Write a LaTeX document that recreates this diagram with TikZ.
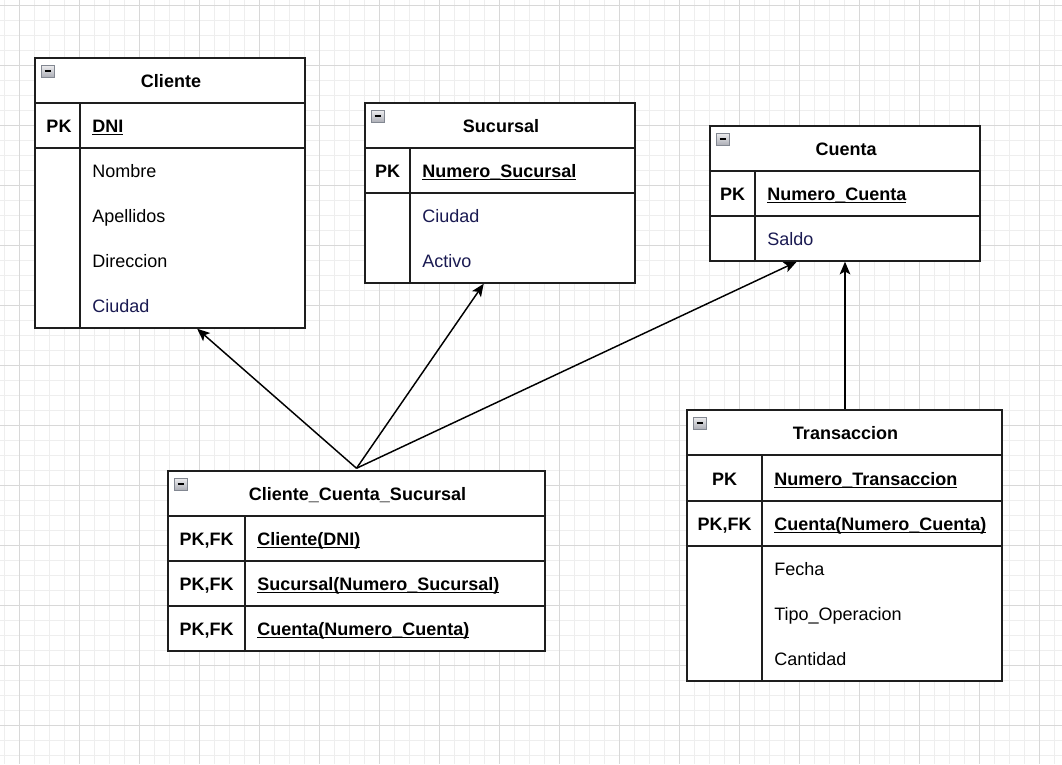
\documentclass[tikz,border=0pt]{standalone}
\usepackage{fontspec}
\setmainfont{Liberation Sans}
\usetikzlibrary{arrows.meta,calc,fit}
\definecolor{gridminor}{HTML}{EEEEEE}
\definecolor{gridmajor}{HTML}{D8D8D8}
\definecolor{navy}{HTML}{1A1A52}
\definecolor{tline}{HTML}{1E1E1E}
\newcommand\undl[1]{\setbox0\hbox{#1}\rlap{\rule[-2.4pt]{\wd0}{0.95pt}}\box0}
\tikzset{
  tbl/.style={draw=tline, line width=1.1pt, fill=white, inner sep=0pt},
  tsep/.style={draw=tline, line width=1.1pt},
  ttitle/.style={font=\fontsize{13.5}{16}\selectfont\bfseries, inner sep=0pt, anchor=base},
  keyf/.style={font=\fontsize{13.5}{16}\selectfont\bfseries, inner sep=0pt, anchor=base},
  attr/.style={font=\fontsize{13.5}{16}\selectfont, inner sep=0pt, anchor=base west},
  keyattr/.style={font=\fontsize{13.5}{16}\selectfont\bfseries, inner sep=0pt, anchor=base west},
  rel/.style={draw=black, line width=1.1pt, -{Stealth[length=9.5pt,width=8pt,inset=2.2pt]}},
  minusbox/.style={draw={rgb,255:red,130;green,135;blue,145}, line width=0.6pt, top color={rgb,255:red,238;green,238;blue,240}, bottom color={rgb,255:red,170;green,172;blue,180}},
}
% name, x1, y1, x2, y2, divider x, title
\newcommand\ertbl[7]{%
  \node[tbl, fit={(#2,#3)(#4,#5)}] (#1) {};
  \draw[tsep] (#2,#3+45) -- (#4,#3+45);
  \draw[tsep] (#6,#3+45) -- (#6,#5);
  \node[ttitle] (#1-title) at ({(#2+#4)/2+1},#3+29) {#7};
  \shade[minusbox] (#2+6.5,#3+7) rectangle (#2+19,#3+19.5);
  \draw[line width=1.3pt, black] (#2+9.5,#3+13.25) -- (#2+16,#3+13.25);
}
\begin{document}
\begin{tikzpicture}[x=0.75pt,y=-0.75pt]
\useasboundingbox (0,0) rectangle (1062,764);
\fill[white] (0,0) rectangle (1062,764);
\foreach \x in {4,19,...,1062} \draw[gridminor, line width=0.75pt] (\x,0) -- (\x,764);
\foreach \y in {5,20,...,764} \draw[gridminor, line width=0.75pt] (0,\y) -- (1062,\y);
\foreach \x in {19,79,...,1062} \draw[gridmajor, line width=0.75pt] (\x,0) -- (\x,764);
\foreach \y in {5,65,...,764} \draw[gridmajor, line width=0.75pt] (0,\y) -- (1062,\y);

% ---------- Cliente ----------
\ertbl{cliente}{35}{58}{305}{328}{80}{Cliente}
\draw[tsep] (35,148) -- (305,148);
\node[keyf] (cli-pk) at (59,132) {PK};
\node[keyattr] (cli-dni) at (92,132) {\undl{DNI}};
\node[attr] (cli-a1) at (92,177) {Nombre};
\node[attr] (cli-a2) at (92,222) {Apellidos};
\node[attr] (cli-a3) at (92,267) {Direccion};
\node[attr, text=navy] (cli-a4) at (92,312) {Ciudad};

% ---------- Sucursal ----------
\ertbl{sucursal}{365}{103}{635}{283}{410}{Sucursal}
\draw[tsep] (365,193) -- (635,193);
\node[keyf] (suc-pk) at (387.5,177) {PK};
\node[keyattr] (suc-num) at (422,177) {\undl{Numero\_Sucursal}};
\node[attr, text=navy] (suc-a1) at (422,222) {Ciudad};
\node[attr, text=navy] (suc-a2) at (422,267) {Activo};

% ---------- Cuenta ----------
\ertbl{cuenta}{710}{126}{980}{261}{755}{Cuenta}
\draw[tsep] (710,216) -- (980,216);
\node[keyf] (cue-pk) at (732.5,200) {PK};
\node[keyattr] (cue-num) at (767,200) {\undl{Numero\_Cuenta}};
\node[attr, text=navy] (cue-a1) at (767,245) {Saldo};

% ---------- Cliente_Cuenta_Sucursal ----------
\ertbl{ccs}{168}{471}{545}{651}{245}{Cliente\_Cuenta\_Sucursal}
\draw[tsep] (168,561) -- (545,561);
\draw[tsep] (168,606) -- (545,606);
\node[keyf] (ccs-k1) at (206.5,545) {PK,FK};
\node[keyf] (ccs-k2) at (206.5,590) {PK,FK};
\node[keyf] (ccs-k3) at (206.5,635) {PK,FK};
\node[keyattr] (ccs-a1) at (257,545) {\undl{Cliente(DNI)}};
\node[keyattr] (ccs-a2) at (257,590) {\undl{Sucursal(Numero\_Sucursal)}};
\node[keyattr] (ccs-a3) at (257,635) {\undl{Cuenta(Numero\_Cuenta)}};

% ---------- Transaccion ----------
\ertbl{trans}{687}{410}{1002}{681}{762}{Transaccion}
\draw[tsep] (687,501) -- (1002,501);
\draw[tsep] (687,546) -- (1002,546);
\node[keyf] (tra-k1) at (724.5,485) {PK};
\node[keyf] (tra-k2) at (724.5,530) {PK,FK};
\node[keyattr] (tra-a1) at (774,485) {\undl{Numero\_Transaccion}};
\node[keyattr] (tra-a2) at (774,530) {\undl{Cuenta(Numero\_Cuenta)}};
\node[attr] (tra-a3) at (774,575) {Fecha};
\node[attr] (tra-a4) at (774,620) {Tipo\_Operacion};
\node[attr] (tra-a5) at (774,665) {Cantidad};

% ---------- connectors ----------
\coordinate (ccs-top) at ($(ccs.north)+(0,-2)$);
\coordinate (cli-end) at ($(cliente.south west)!0.6!(cliente.south east)$);
\coordinate (suc-end) at ($(sucursal.south west)!0.44!(sucursal.south east)$);
\coordinate (cue-end) at ($(cuenta.south west)!0.322!(cuenta.south east)$);
\coordinate (tra-top) at ($(trans.north)+(0.5,0)$);
\draw[rel] (ccs-top) -- (cli-end);
\draw[rel] (ccs-top) -- (suc-end);
\draw[rel] (ccs-top) -- (cue-end);
\draw[rel] (tra-top) -- (cuenta.south);
\end{tikzpicture}
\end{document}
